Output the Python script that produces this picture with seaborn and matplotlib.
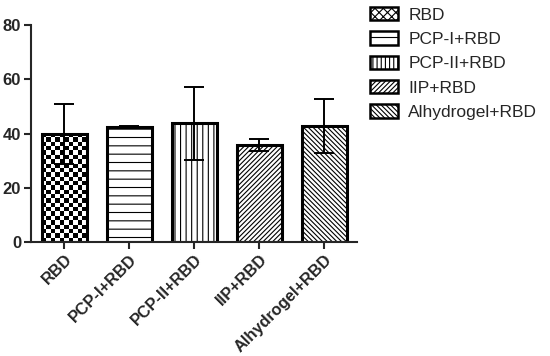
import numpy as np
import pandas as pd
import matplotlib
matplotlib.use("Agg")
import matplotlib.pyplot as plt
from matplotlib.patches import Patch
import seaborn as sns

# values
groups = ["RBD", "PCP-I+RBD", "PCP-II+RBD", "IIP+RBD", "Alhydrogel+RBD"]
means = [39.8, 42.5, 43.8, 35.8, 42.8]
sds = [11.1, 0.4, 13.4, 2.3, 10.0]
hatches = [None, "--", "|||", "///////", "\\\\\\\\\\\\\\"]

df = pd.DataFrame({"group": groups, "mean": means, "sd": sds})

sns.set_style("ticks")
plt.rcParams["font.family"] = ["Liberation Sans", "DejaVu Sans"]
plt.rcParams["hatch.linewidth"] = 0.8

fig = plt.figure(figsize=(5.5, 3.56), dpi=100)
ax = fig.add_axes([0.056, 0.320, 0.593, 0.610])

sns.barplot(data=df, x="group", y="mean", color="white", edgecolor="black",
            linewidth=2.2, width=0.69, errorbar=None, saturation=1, ax=ax)

bars = ax.patches[:len(groups)]
for bar, h in zip(bars, hatches):
    if h:
        bar.set_hatch(h)

ax.set_xlim(-0.515, 4.5)
ax.set_ylim(0, 80)

# checkerboard fill for the first bar (no checker hatch in matplotlib)
fig.canvas.draw()
b0 = bars[0]
x0, w, hgt = b0.get_x(), b0.get_width(), b0.get_height()
p0 = ax.transData.transform((x0, 0))
p1 = ax.transData.transform((x0 + w, hgt))
ncol = max(1, int(round((p1[0] - p0[0]) / 4.4)))
nrow = max(1, int(round((p1[1] - p0[1]) / 4.4)))
checker = np.indices((nrow, ncol)).sum(axis=0) % 2
b0.set_facecolor("none")
im = ax.imshow(checker, cmap="gray", extent=[x0, x0 + w, 0, hgt], aspect="auto",
               interpolation="nearest", zorder=0.5)
im.set_clip_path(b0)
ax.set_xlim(-0.515, 4.5)
ax.set_ylim(0, 80)

# error bars (mean +/- SD)
centers = [b.get_x() + b.get_width() / 2 for b in bars]
ax.errorbar(centers, df["mean"], yerr=df["sd"], fmt="none", ecolor="black",
            elinewidth=1.4, capsize=7, capthick=1.4, zorder=3)

ax.set_xlabel("")
ax.set_ylabel("")
ax.set_yticks([0, 20, 40, 60, 80])
ax.tick_params(axis="both", length=5, width=1.5, labelsize=12, pad=2)
ax.tick_params(axis="x", labelsize=11.8, pad=2)
for lab in ax.get_yticklabels():
    lab.set_fontweight("bold")
ax.set_xticks(range(len(groups)))
ax.set_xticklabels(groups, rotation=45, ha="right", rotation_mode="anchor",
                   fontweight="bold")
for s in ["left", "bottom"]:
    ax.spines[s].set_linewidth(1.5)
sns.despine(ax=ax)

leg_hatches = ["xxxx", "--", "||||", "///////", "\\\\\\\\\\\\\\"]
handles = [Patch(facecolor="white", edgecolor="black", linewidth=1.8, hatch=h, label=g)
           for g, h in zip(groups, leg_hatches)]
fig.legend(handles=handles, loc="upper left", bbox_to_anchor=(0.66, 1.0),
           frameon=False, fontsize=12.5, handlelength=1.6, handleheight=0.8,
           labelspacing=0.5, handletextpad=0.6, borderaxespad=0)

fig.savefig("out.png", dpi=100)
